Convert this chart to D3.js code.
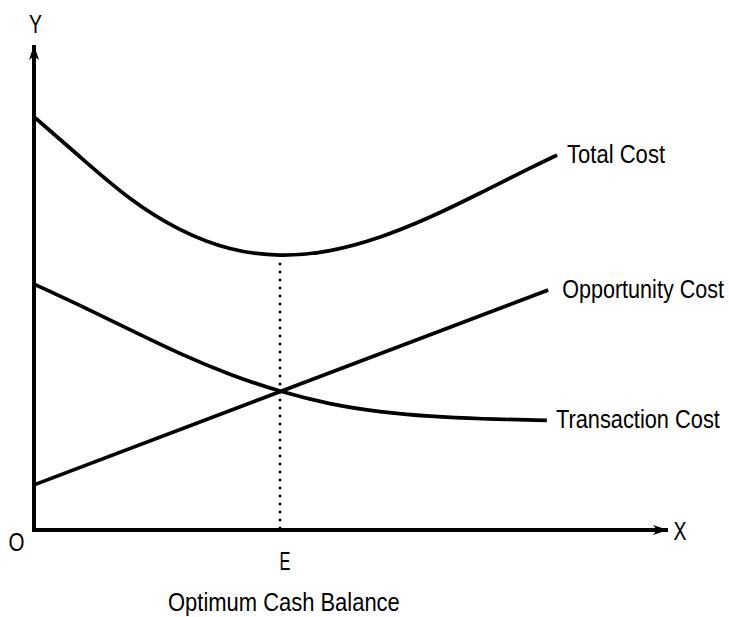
<!DOCTYPE html>
<html>
<head>
<meta charset="utf-8">
<script src="https://cdn.jsdelivr.net/npm/d3@7"></script>
<style>
  body { margin: 0; background: #fff; }
  text { font-family: 'Liberation Sans Narrow', 'Arial Narrow', 'Liberation Sans', Arial, sans-serif; fill: #000; }
</style>
</head>
<body>
<div id="graphicContainer"></div>
<script>
// cash balance held (x) vs cost (y)
var cashLevels = [0, 7.3, 15.1, 23.0, 30.9, 38.8, 46.7, 54.6, 62.5, 70.3, 78.2, 82.5]
var totalCost = [85.2, 76.9, 68.0, 61.6, 57.6, 56.3, 57.3, 60.2, 64.4, 69.4, 74.6, 77.3]

var transLevels = [0, 7.3, 15.1, 23.0, 30.9, 38.8, 46.7, 54.6, 62.5, 70.3, 80.9]
var transactionCost = [50.7, 46.3, 41.3, 36.3, 32.0, 28.5, 25.9, 24.3, 23.4, 22.9, 22.6]

var oppLevels = [0, 81.1]
var opportunityCost = [9.3, 49.5]

var optimumX = 38.8
var optimumY = 56.3

var curveNames = ["Total Cost", "Opportunity Cost", "Transaction Cost"]
var axisLabels = ["Y", "X", "O", "E"]
var xTitle = "Optimum Cash Balance"

var width = 729, height = 617

var x = d3.scaleLinear().domain([0, 100]).range([34, 668])
var y = d3.scaleLinear().domain([0, 100]).range([530, 45])

var svg = d3.select("#graphicContainer").append("svg")
    .attr("width", width)
    .attr("height", height)

svg.append("defs").append("marker")
    .attr("id", "arrow")
    .attr("viewBox", "0 0 15 10")
    .attr("refX", 15)
    .attr("refY", 5)
    .attr("markerWidth", 15)
    .attr("markerHeight", 10)
    .attr("markerUnits", "userSpaceOnUse")
    .attr("orient", "auto")
  .append("path")
    .attr("d", "M0,0 L15,5 L0,10 L4,5 Z")
    .attr("fill", "#000")

// axes: Y up and X right, both with arrowheads
svg.append("path")
    .attr("d", "M" + x(0) + "," + y(0) + " L" + x(100) + "," + y(0))
    .attr("fill", "none")
    .attr("stroke", "#000")
    .attr("stroke-width", 4)
    .attr("marker-end", "url(#arrow)")

svg.append("path")
    .attr("d", "M" + x(0) + "," + (y(0) + 2) + " L" + x(0) + "," + y(100))
    .attr("fill", "none")
    .attr("stroke", "#000")
    .attr("stroke-width", 4)
    .attr("marker-end", "url(#arrow)")

// dotted drop line at the optimum
svg.append("line")
    .attr("x1", x(optimumX)).attr("x2", x(optimumX))
    .attr("y1", y(optimumY) + 7).attr("y2", y(0))
    .attr("stroke", "#000")
    .attr("stroke-width", 3)
    .attr("stroke-linecap", "round")
    .attr("stroke-dasharray", "0,8")

var line = d3.line()
    .x(d => x(d[0]))
    .y(d => y(d[1]))
    .curve(d3.curveBasis)

// narrow text: squeeze the fallback font horizontally to the wanted width
function narrowText(t, left, base, size, w) {
  var g = svg.append("g")
  var txt = g.append("text")
      .attr("font-size", size)
      .text(t)
  var natural = txt.node().getComputedTextLength()
  var sx = Math.min(1, w / natural)
  g.attr("transform", "translate(" + left + "," + base + ") scale(" + sx + ",1)")
}

var series = [
  d3.zip(cashLevels, totalCost),
  d3.zip(oppLevels, opportunityCost),
  d3.zip(transLevels, transactionCost)
]
var labelDx = [10, 14, 9]
var labelLen = [98, 162, 164]

series.forEach(function(pts, i) {
  svg.append("path")
      .datum(pts)
      .attr("d", line)
      .attr("fill", "none")
      .attr("stroke", "#000")
      .attr("stroke-width", 3.7)

  var last = pts[pts.length - 1]
  narrowText(curveNames[i], x(last[0]) + labelDx[i], y(last[1]) + 8, 26, labelLen[i])
})

// axis letters
narrowText(axisLabels[0], 29, 33, 25, 13)
narrowText(axisLabels[1], 673.5, 540, 25, 13)
narrowText(axisLabels[2], 8.5, 551, 25, 16)
narrowText(axisLabels[3], 279.5, 570, 25, 11)

narrowText(xTitle, 168, 611, 26, 232)
</script>
</body>
</html>
